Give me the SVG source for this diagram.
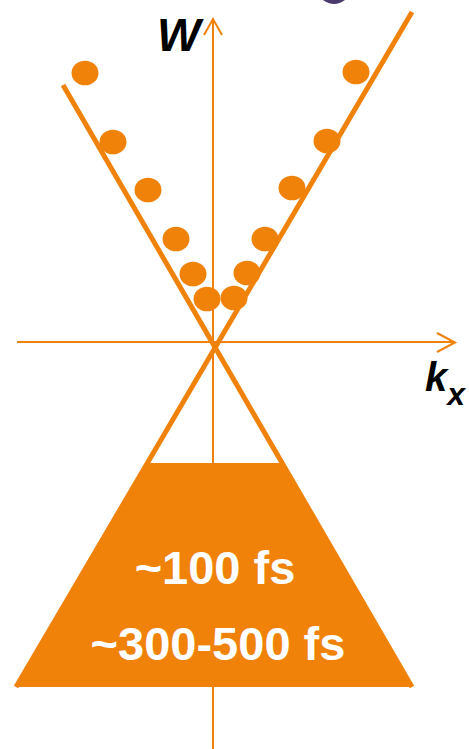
<svg xmlns="http://www.w3.org/2000/svg" width="469" height="749" viewBox="0 0 469 749">
<style>
.ax{stroke:#F0820A;stroke-width:2;fill:none}
.ln{stroke:#F0820A;stroke-width:5;fill:none}
.dot{fill:#F0820A}
.lbl{font-family:"Liberation Sans",Arial,sans-serif;font-weight:bold;font-style:italic;fill:#000}
.t{font-family:"Liberation Sans",Arial,sans-serif;font-weight:bold;fill:#fff;font-size:47px;text-anchor:middle}
</style>
<rect width="469" height="749" fill="#fff"/>
<path d="M323,0 Q334,8 345,0 Z" fill="#4B3A6E"/>
<g id="cone">
<polygon points="147,463 282,463 412,687 16,687" fill="#F0820A"/>
</g>
<g id="connectors">
<line class="ax" x1="213" y1="20" x2="213" y2="749"/>
<polyline class="ax" points="204,35 213,19 222,35"/>
<line class="ax" x1="17" y1="342" x2="454" y2="342"/>
<polyline class="ax" points="437,333 455,342.5 437,352"/>
<line class="ln" x1="63" y1="85" x2="412" y2="687"/>
<line class="ln" x1="412" y1="12" x2="16" y2="687"/>
</g>
<g id="dots">
<ellipse class="dot" cx="85" cy="73" rx="13.5" ry="12.3"/>
<ellipse class="dot" cx="113" cy="142" rx="13.5" ry="12.3"/>
<ellipse class="dot" cx="148" cy="190" rx="13.5" ry="12.3"/>
<ellipse class="dot" cx="176" cy="239" rx="13.5" ry="12.3"/>
<ellipse class="dot" cx="193" cy="274" rx="13.5" ry="12.3"/>
<ellipse class="dot" cx="207" cy="299" rx="13.5" ry="12.3"/>
<ellipse class="dot" cx="234" cy="298" rx="13.5" ry="12.3"/>
<ellipse class="dot" cx="247" cy="273" rx="13.5" ry="12.3"/>
<ellipse class="dot" cx="265" cy="239" rx="13.5" ry="12.3"/>
<ellipse class="dot" cx="292" cy="188" rx="13.5" ry="12.3"/>
<ellipse class="dot" cx="327" cy="141" rx="13.5" ry="12.3"/>
<ellipse class="dot" cx="356" cy="72" rx="13.5" ry="12.3"/>
</g>
<g id="labels">
<text class="lbl" x="157" y="51" font-size="46">W</text>
<text class="lbl" x="425" y="391" font-size="40">k<tspan font-size="32" dy="14">x</tspan></text>
<text class="t" x="215" y="584">~100 fs</text>
<text class="t" x="218" y="660">~300-500 fs</text>
</g>
</svg>
